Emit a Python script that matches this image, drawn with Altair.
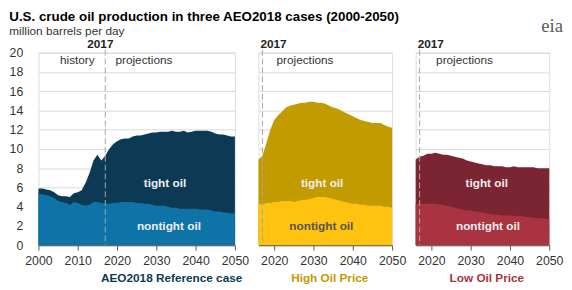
import altair as alt
import pandas as pd

FONT = "Liberation Sans"
TEXT_C = "#333333"
AXIS_C = "#595959"

TITLE = ["U.S. crude oil production in three AEO2018 cases (2000-2050)"]
SUBTITLE = ["million barrels per day"]

ref_years = list(range(2000, 2051))
ref_total = [5.9, 5.9, 5.8, 5.7, 5.5, 5.2, 5.1, 5.1, 5.0, 5.4,
             5.5, 5.7, 6.5, 7.5, 8.8, 9.4, 8.8, 9.3, 10.0, 10.5,
             10.8, 11.0, 11.1, 11.1, 11.3, 11.4, 11.4, 11.5, 11.6, 11.7,
             11.7, 11.8, 11.8, 11.8, 11.9, 11.8, 11.8, 11.9, 11.7, 11.8,
             11.9, 11.9, 11.9, 11.9, 11.8, 11.6, 11.5, 11.5, 11.4, 11.3, 11.3]
ref_nontight = [5.3, 5.3, 5.2, 5.1, 4.9, 4.6, 4.5, 4.4, 4.2, 4.5,
                4.4, 4.2, 4.1, 4.2, 4.5, 4.5, 4.4, 4.3, 4.3, 4.4,
                4.4, 4.5, 4.5, 4.5, 4.5, 4.4, 4.4, 4.3, 4.3, 4.2,
                4.1, 4.1, 4.1, 4.0, 3.9, 3.9, 3.8, 3.8, 3.8, 3.8,
                3.8, 3.7, 3.7, 3.7, 3.6, 3.5, 3.5, 3.4, 3.4, 3.3, 3.3]

proj_years = list(range(2016, 2051))
high_total = [8.9, 9.3, 10.6, 12.0, 13.0, 13.5, 13.9, 14.3, 14.5, 14.6,
              14.7, 14.8, 14.8, 14.9, 14.9, 14.8, 14.8, 14.7, 14.5, 14.3,
              14.2, 14.0, 13.8, 13.6, 13.4, 13.2, 13.0, 12.9, 12.8, 12.7,
              12.7, 12.7, 12.5, 12.3, 12.2]
high_nontight = [4.3, 4.2, 4.4, 4.4, 4.5, 4.5, 4.6, 4.6, 4.6, 4.5,
                 4.6, 4.7, 4.7, 4.8, 4.9, 5.0, 5.0, 5.0, 4.9, 4.8,
                 4.7, 4.6, 4.5, 4.4, 4.3, 4.3, 4.2, 4.2, 4.1, 4.1,
                 4.1, 4.1, 4.0, 4.0, 3.9]
low_total = [8.9, 9.2, 9.3, 9.5, 9.5, 9.6, 9.5, 9.4, 9.4, 9.3,
             9.2, 9.1, 9.0, 8.8, 8.7, 8.6, 8.5, 8.4, 8.3, 8.3,
             8.2, 8.2, 8.2, 8.1, 8.1, 8.2, 8.1, 8.1, 8.1, 8.1,
             8.1, 8.0, 8.0, 8.0, 8.0]
low_nontight = [4.3, 4.3, 4.3, 4.3, 4.3, 4.3, 4.2, 4.2, 4.1, 4.0,
                3.9, 3.8, 3.7, 3.6, 3.6, 3.5, 3.45, 3.4, 3.3, 3.25,
                3.2, 3.15, 3.1, 3.1, 3.1, 3.05, 3.0, 3.0, 2.95, 2.9,
                2.85, 2.8, 2.8, 2.75, 2.7]

panel_titles = ["AEO2018 Reference case", "High Oil Price", "Low Oil Price"]
tight_colors = ["#0c3a55", "#c29b00", "#7c2532"]
nontight_colors = ["#0e73a6", "#ffc20e", "#a93340"]
title_colors = ["#0c3a55", "#c29b00", "#a93340"]
nontight_label_colors = ["#eeeeee", "#555555", "#eeeeee"]
tight_label_x = [2032.2, 2032.2, 2034.1]
nontight_label_x = [2033.2, 2032.0, 2034.4]
tight_label_y = 6.5
nontight_label_y = 2.0
projection_label_x = [2019.6, 2020.6, 2021.2]
history_label_x = 2014.3
projection_year = 2017

H = 196


def make_panel(i, years, total, nontight, domain, ticks, width, first):
    df = pd.DataFrame({"year": years, "total": total, "nontight": nontight})
    xscale = alt.Scale(domain=domain, nice=False, zero=False)
    yscale = alt.Scale(domain=[0, 20], nice=False)
    xaxis = alt.Axis(values=ticks, format="d", labelFlush=False, grid=False,
                     tickSize=5, tickColor=AXIS_C, domainColor=AXIS_C,
                     labelColor=TEXT_C, labelFont=FONT, labelFontSize=12.5,
                     labelPadding=5, title=panel_titles[i], titleFont=FONT,
                     titleFontSize=12, titleFontWeight="bold",
                     titleColor=title_colors[i],
                     titleX=207 if first else width / 2 + 4,
                     titleAlign="right" if first else "center",
                     titlePadding=5, zindex=1)
    yaxis = alt.Axis(values=list(range(0, 21, 2)), grid=True, gridColor="#d9d9d9",
                     ticks=False, domain=False, labels=first, labelPadding=16,
                     labelFont=FONT, labelFontSize=12.5, labelColor=TEXT_C, title=None)
    X = alt.X("year:Q", scale=xscale, axis=xaxis)
    base = alt.Chart(df)
    layers = [
        base.mark_area(color=tight_colors[i]).encode(
            x=X, y=alt.Y("total:Q", scale=yscale, axis=yaxis)),
        base.mark_area(color=nontight_colors[i]).encode(
            x=X, y=alt.Y("nontight:Q", scale=yscale, axis=yaxis)),
    ]
    rule_df = pd.DataFrame({"year": [projection_year], "label": [str(projection_year)]})
    layers.append(alt.Chart(rule_df).mark_rule(
        color="#a6a6a6", strokeDash=[6, 3], strokeWidth=1).encode(
        x=X, y=alt.value(-3), y2=alt.value(H)))
    if first:
        layers.append(alt.Chart(rule_df).mark_text(
            font=FONT, fontSize=12, fontWeight="bold", color="#222222",
            align="center", baseline="bottom", dx=-5).encode(
            x=X, y=alt.value(-2), text="label:N"))
        hist_df = pd.DataFrame({"year": [history_label_x], "label": ["history"]})
        layers.append(alt.Chart(hist_df).mark_text(
            font=FONT, fontSize=12, color=TEXT_C, align="right",
            baseline="middle").encode(x=X, y=alt.value(8), text="label:N"))
    else:
        lab_df = pd.DataFrame({"year": [domain[0]], "label": [str(projection_year)]})
        layers.append(alt.Chart(lab_df).mark_text(
            font=FONT, fontSize=12, fontWeight="bold", color="#222222",
            align="left", baseline="bottom", dx=2).encode(
            x=X, y=alt.value(-2), text="label:N"))
    proj_df = pd.DataFrame({"year": [projection_label_x[i]], "label": ["projections"]})
    layers.append(alt.Chart(proj_df).mark_text(
        font=FONT, fontSize=12, color=TEXT_C, align="left",
        baseline="middle").encode(x=X, y=alt.value(8), text="label:N"))
    lab_df = pd.DataFrame({"year": [tight_label_x[i], nontight_label_x[i]],
                           "value": [tight_label_y, nontight_label_y],
                           "label": ["tight oil", "nontight oil"],
                           "col": ["#eeeeee", nontight_label_colors[i]]})
    layers.append(alt.Chart(lab_df).mark_text(
        font=FONT, fontSize=12, fontWeight="bold", align="center",
        baseline="middle").encode(
        x=X, y=alt.Y("value:Q", scale=yscale, axis=yaxis), text="label:N",
        color=alt.Color("col:N", scale=None)))
    if first:
        t_df = pd.DataFrame({"text": TITLE})
        s_df = pd.DataFrame({"text": SUBTITLE})
        layers.append(alt.Chart(t_df).mark_text(
            font=FONT, fontSize=13.6, fontWeight="bold", color="#000000",
            align="left", baseline="alphabetic").encode(
            x=alt.value(-29.7), y=alt.value(-32), text="text:N"))
        layers.append(alt.Chart(s_df).mark_text(
            font=FONT, fontSize=12, color=TEXT_C,
            align="left", baseline="alphabetic").encode(
            x=alt.value(-29.7), y=alt.value(-18.5), text="text:N"))
    if i == 2:
        logo_df = pd.DataFrame({"text": ["eia"]})
        layers.append(alt.Chart(logo_df).mark_text(
            font="Liberation Serif", fontSize=19, color="#5b5b5b",
            align="center", baseline="alphabetic").encode(
            x=alt.value(139), y=alt.value(-21), text="text:N"))
        arc_df = pd.DataFrame({"band": ["a", "b", "c"],
                               "r": [44, 42.2, 40.4],
                               "col": ["#c8d400", "#3aaa35", "#1a8fd0"]})
        layers.append(alt.Chart(arc_df).mark_arc(theta=5.85, theta2=6.28).encode(
            x=alt.value(148), y=alt.value(5),
            radius=alt.Radius("r:Q", scale=None),
            radius2=alt.Radius2("r:Q"),
            color=alt.Color("col:N", scale=None)))
    return alt.layer(*layers).properties(width=width, height=H)


left = make_panel(0, ref_years, ref_total, ref_nontight, [2000, 2050],
                  [2000, 2010, 2020, 2030, 2040, 2050], 200, True)
mid = make_panel(1, proj_years, high_total, high_nontight, [2016, 2050],
                 [2020, 2030, 2040, 2050], 136, False)
right = make_panel(2, proj_years, low_total, low_nontight, [2016, 2050],
                   [2020, 2030, 2040, 2050], 136, False)

chart = alt.hconcat(left, mid, right, spacing=24, bounds="flush").properties(
    padding={"left": 0, "top": -1, "right": 0, "bottom": 0}
).configure_view(stroke=None).configure(background="white")

chart.save("out.html", embed_options={"renderer": "svg", "actions": False})
